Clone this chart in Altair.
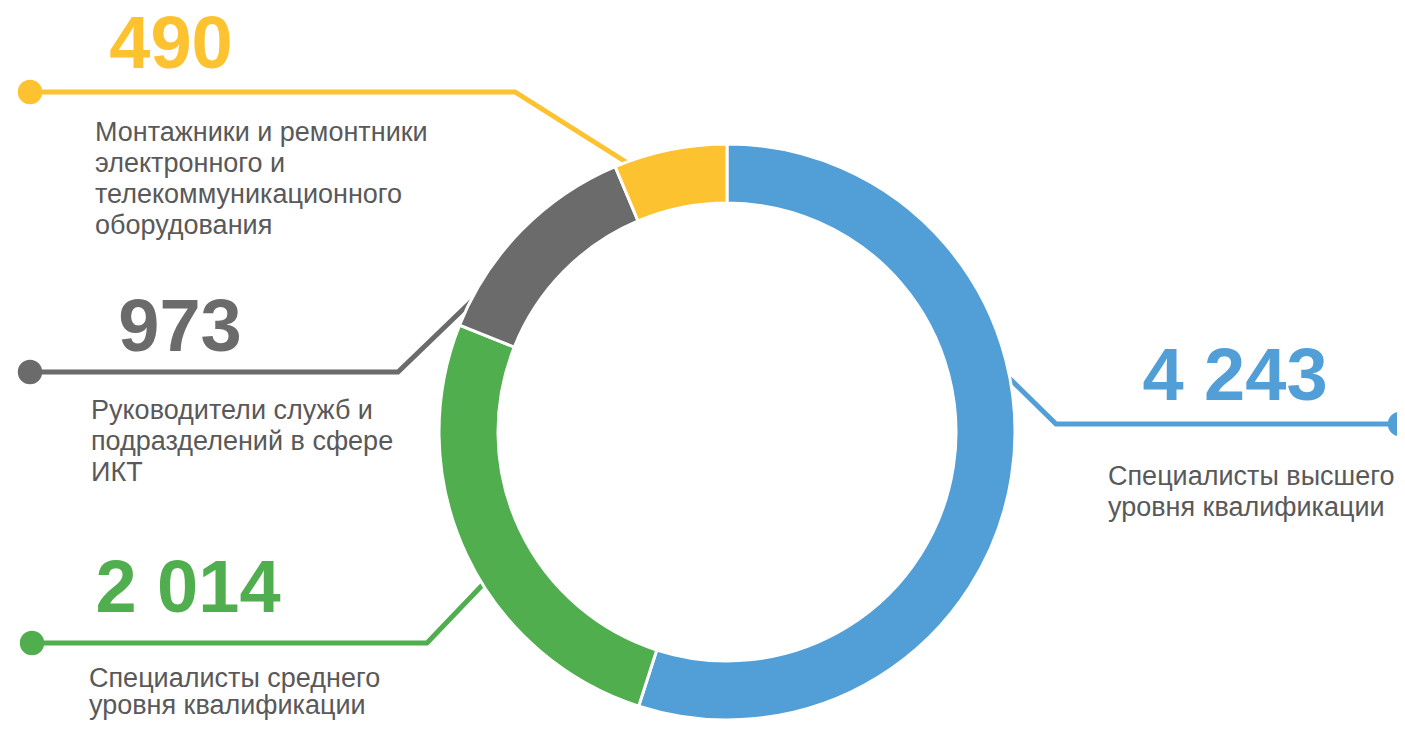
import altair as alt
import pandas as pd

# ---- data ----
categories = [
    "Специалисты высшего уровня квалификации",
    "Специалисты среднего уровня квалификации",
    "Руководители служб и подразделений в сфере ИКТ",
    "Монтажники и ремонтники электронного и телекоммуникационного оборудования",
]
values = [4243, 2014, 973, 490]
value_labels = ["4 243", "2 014", "973", "490"]
desc_lines = [
    ["Специалисты высшего", "уровня квалификации"],
    ["Специалисты среднего", "уровня квалификации"],
    ["Руководители служб и", "подразделений в сфере", "ИКТ"],
    ["Монтажники и ремонтники", "электронного и", "телекоммуникационного", "оборудования"],
]
colors = ["#529FD7", "#50AE4F", "#6B6B6B", "#FDC22F"]

# ---- annotation layout (page pixel coordinates) ----
leader_x = [[1001, 1056, 1400], [491, 427, 32], [480, 398, 30], [637, 515, 30]]
leader_y = [[370, 424, 424], [576, 643, 643], [293, 372, 372], [169, 92, 92]]
number_x = [1235, 188, 180, 171]
number_y = [400, 612, 351, 68]
desc_x = [1108, 89, 91, 95]
desc_y = [485, 687, 419, 141]
line_h = [31, 27, 31, 31]

W, H = 1389, 713

arc_df = pd.DataFrame({"cat": categories, "value": values, "order": range(len(values))})

line_rows, dot_rows, num_rows, desc_rows = [], [], [], []
for i, c in enumerate(categories):
    for k, (x, y) in enumerate(zip(leader_x[i], leader_y[i])):
        line_rows.append({"cat": c, "x": x, "y": y, "k": k})
    dot_rows.append({"cat": c, "x": leader_x[i][-1], "y": leader_y[i][-1]})
    num_rows.append({"cat": c, "x": number_x[i], "y": number_y[i], "label": value_labels[i]})
    for j, t in enumerate(desc_lines[i]):
        desc_rows.append({"cat": c, "x": desc_x[i], "y": desc_y[i] + j * line_h[i], "label": t})

xs = alt.Scale(domain=[8, 8 + W], nice=False, zero=False)
ys = alt.Scale(domain=[8, 8 + H], nice=False, zero=False, reverse=True)
cs = alt.Scale(domain=categories, range=colors)

X = alt.X("x:Q", scale=xs, axis=None)
Y = alt.Y("y:Q", scale=ys, axis=None)
C = alt.Color("cat:N", scale=cs, legend=None)

lines = alt.Chart(pd.DataFrame(line_rows)).mark_line(strokeWidth=5, strokeJoin="miter").encode(
    x=X, y=Y, color=C, detail="cat:N", order="k:Q"
)
dots = alt.Chart(pd.DataFrame(dot_rows)).mark_circle(size=600, opacity=1).encode(x=X, y=Y, color=C)

arcs = alt.Chart(arc_df).mark_arc(innerRadius=229, outerRadius=288, stroke="white", strokeWidth=3).encode(
    theta=alt.Theta("value:Q", stack=True),
    order=alt.Order("order:Q"),
    color=C,
    x=alt.value(719),
    y=alt.value(424),
)

nums = alt.Chart(pd.DataFrame(num_rows)).mark_text(
    font="Liberation Sans", fontSize=74, fontWeight="bold", align="center", baseline="alphabetic"
).encode(x=X, y=Y, text="label:N", color=C)

descs = alt.Chart(pd.DataFrame(desc_rows)).mark_text(
    font="Liberation Sans", fontSize=27, align="left", baseline="alphabetic", color="#595959"
).encode(x=X, y=Y, text="label:N")

chart = alt.layer(lines, dots, arcs, nums, descs).properties(
    width=W, height=H, padding=0, autosize=alt.AutoSizeParams(type="none")
).configure_view(stroke=None)

chart.save("out.html", embed_options={"renderer": "svg", "actions": False})
